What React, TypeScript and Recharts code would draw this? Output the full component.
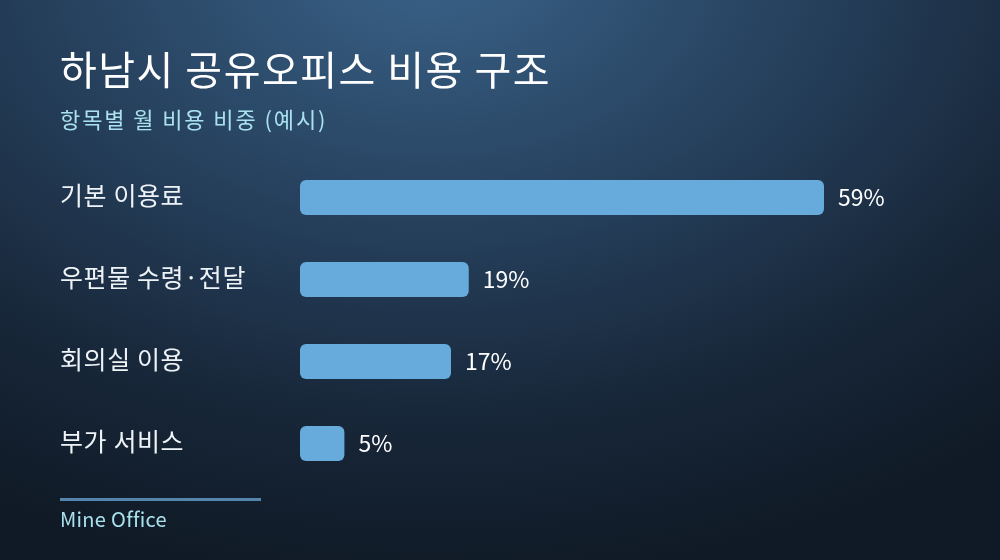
import React from "react";
import { BarChart, Bar, XAxis, YAxis, LabelList } from "recharts";

const categories = ["기본 이용료", "우편물 수령·전달", "회의실 이용", "부가 서비스"];
const shares = [59, 19, 17, 5];

const data = categories.map((name, i) => ({ name, share: shares[i] }));

const FONT = "'Noto Sans CJK KR', 'Noto Sans', sans-serif";

const CategoryTick = (props: any) => {
  const { y, payload } = props;
  return (
    <text x={60} y={y} dy={8} textAnchor="start" fill="#eef3f8" fontSize={25} letterSpacing={0.6} fontFamily={FONT}>
      {payload.value}
    </text>
  );
};

export default function App() {
  return (
    <div
      style={{
        position: "fixed",
        left: 0,
        top: 0,
        width: 1000,
        height: 560,
        overflow: "hidden",
        fontFamily: FONT,
        background:
          "radial-gradient(ellipse 900px 620px at 430px -40px, #3a6389 0%, #27425f 40%, #172638 75%, #101a26 100%)",
      }}
    >
      <div style={{ position: "absolute", left: 60, top: 44, fontSize: 40, letterSpacing: 1.5, color: "#ffffff", lineHeight: 1.2 }}>
        하남시 공유오피스 비용 구조
      </div>
      <div style={{ position: "absolute", left: 60, top: 105, fontSize: 22, letterSpacing: 1.9, color: "#a9e2ee", lineHeight: 1.2 }}>
        항목별 월 비용 비중 (예시)
      </div>
      <div style={{ position: "absolute", left: 0, top: 0 }}>
        <BarChart
          width={1000}
          height={560}
          data={data}
          layout="vertical"
          margin={{ top: 156, right: 176, bottom: 76, left: 0 }}
        >
          <XAxis type="number" hide domain={[0, 59]} />
          <YAxis
            type="category"
            dataKey="name"
            width={300}
            axisLine={false}
            tickLine={false}
            tick={<CategoryTick />}
          />
          <Bar dataKey="share" fill="#67aadc" barSize={35} radius={6} isAnimationActive={false}>
            <LabelList
              dataKey="share"
              position="right"
              offset={14}
              fill="#ffffff"
              fontSize={23}
              fontFamily={FONT}
              formatter={(v: any) => `${v}%`}
            />
          </Bar>
        </BarChart>
      </div>
      <div style={{ position: "absolute", left: 60, top: 498, width: 201, height: 3, background: "#5584ad" }} />
      <div style={{ position: "absolute", left: 60, top: 507, fontSize: 20, letterSpacing: 0.3, color: "#a9e2ee", lineHeight: 1.2 }}>
        Mine Office
      </div>
    </div>
  );
}
